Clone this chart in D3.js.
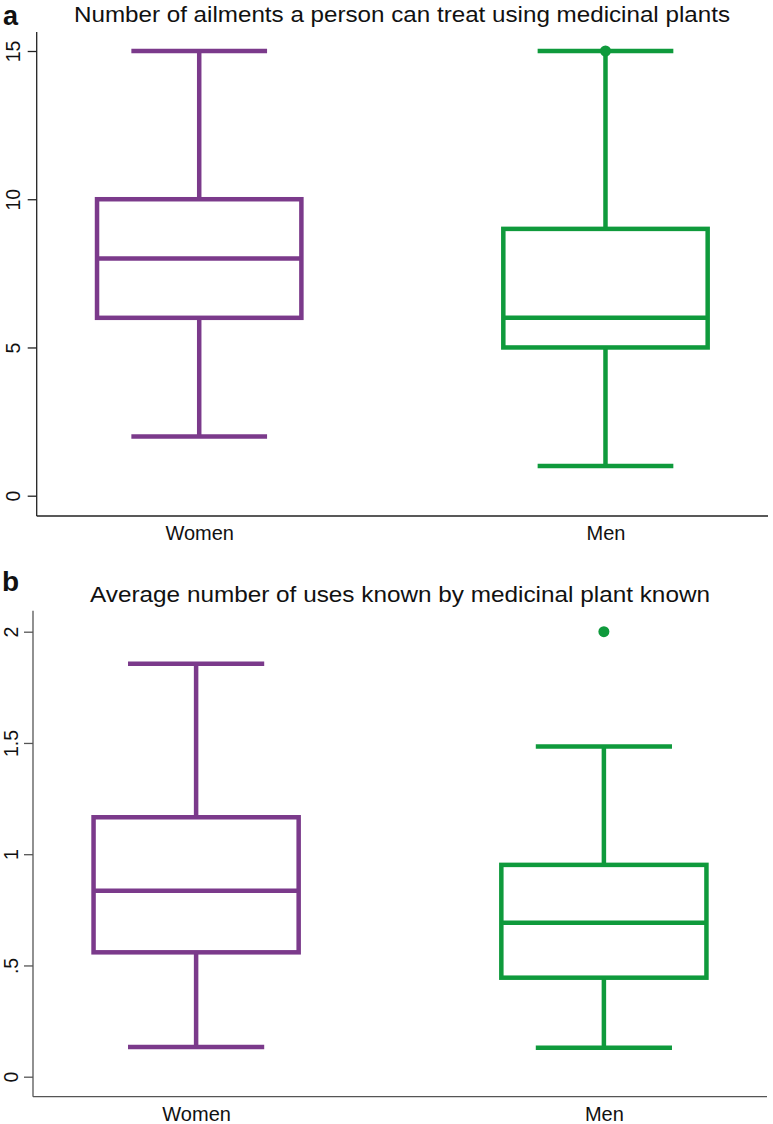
<!DOCTYPE html>
<html>
<head>
<meta charset="utf-8">
<script src="https://cdn.jsdelivr.net/npm/d3@7"></script>
<style>
  html, body { margin: 0; padding: 0; background: #fff; }
  svg { display: block; font-family: "Liberation Sans", Arial, Helvetica, sans-serif; }
</style>
</head>
<body>
<svg id="chart" width="773" height="1124"></svg>
<script>
// ---- data ----
const categories = ["Women", "Men"];

// Panel a: number of ailments
const ailmentsLowerWhisker = [2, 1];
const ailmentsQ1 = [6, 5];
const ailmentsMedian = [8, 6];
const ailmentsQ3 = [10, 9];
const ailmentsUpperWhisker = [15, 15];
const ailmentsOutliers = [[], [15]];
const ailmentsTicks = [0, 5, 10, 15];
const ailmentsTickLabels = ["0", "5", "10", "15"];

// Panel b: average number of uses per plant
const usesLowerWhisker = [0.133, 0.13];
const usesQ1 = [0.559, 0.445];
const usesMedian = [0.836, 0.692];
const usesQ3 = [1.166, 0.952];
const usesUpperWhisker = [1.856, 1.484];
const usesOutliers = [[], [2.0]];
const usesTicks = [0, 0.5, 1, 1.5, 2];
const usesTickLabels = ["0", ".5", "1", "1.5", "2"];

const colors = ["#7b3a8b", "#0f9a3c"];

const svg = d3.select("#chart");

function panel(cfg) {
  const g = svg.append("g");
  const x = d3.scalePoint().domain(categories).range([cfg.xLeft, cfg.xRight]).padding(0.4);
  const y = d3.scaleLinear().domain(cfg.domain).range(cfg.yRange);
  const step = x.step();
  const boxW = step * 0.503;
  const capW = step * 0.334;
  const sw = 4.5;

  // axes
  const yAxis = d3.axisLeft(y).tickValues(cfg.ticks).tickSize(9).tickPadding(0)
    .tickFormat((d, i) => cfg.tickLabels[i]);
  const ya = g.append("g").attr("transform", `translate(${cfg.xLeft},0)`).call(yAxis);
  ya.select(".domain").attr("d", `M-0,${cfg.axisTop}V${cfg.axisBottom}`)
    .attr("stroke", cfg.axisColor).attr("stroke-width", 1.3);
  ya.selectAll(".tick line").attr("stroke", cfg.axisColor).attr("stroke-width", 1.3);
  ya.selectAll(".tick text")
    .attr("x", null).attr("dy", null)
    .attr("transform", `translate(${cfg.tickTextX - cfg.xLeft},0) rotate(-90)`)
    .attr("text-anchor", "middle")
    .attr("font-size", 19.5)
    .attr("fill", "#111");

  const xAxis = d3.axisBottom(x).tickSize(0).tickPadding(0);
  const xa = g.append("g").attr("transform", `translate(0,${cfg.axisBottom})`).call(xAxis);
  xa.select(".domain").attr("d", `M${cfg.xLeft},0H${cfg.xRight}`)
    .attr("stroke", cfg.axisColor).attr("stroke-width", 1.3);
  xa.selectAll(".tick text").attr("dy", null).attr("y", cfg.xLabelDy)
    .attr("font-size", 20).attr("fill", "#111");

  // boxes
  categories.forEach((c, i) => {
    const cx = x(c);
    const col = colors[i];
    const bg = g.append("g").attr("stroke", col).attr("stroke-width", sw).attr("fill", "none");
    // whiskers
    bg.append("line").attr("x1", cx).attr("x2", cx)
      .attr("y1", y(cfg.q3[i])).attr("y2", y(cfg.hi[i]));
    bg.append("line").attr("x1", cx).attr("x2", cx)
      .attr("y1", y(cfg.q1[i])).attr("y2", y(cfg.lo[i]));
    bg.append("line").attr("x1", cx - capW / 2).attr("x2", cx + capW / 2)
      .attr("y1", y(cfg.hi[i])).attr("y2", y(cfg.hi[i]));
    bg.append("line").attr("x1", cx - capW / 2).attr("x2", cx + capW / 2)
      .attr("y1", y(cfg.lo[i])).attr("y2", y(cfg.lo[i]));
    // box
    bg.append("rect").attr("x", cx - boxW / 2).attr("width", boxW)
      .attr("y", y(cfg.q3[i])).attr("height", y(cfg.q1[i]) - y(cfg.q3[i]));
    bg.append("line").attr("x1", cx - boxW / 2).attr("x2", cx + boxW / 2)
      .attr("y1", y(cfg.med[i])).attr("y2", y(cfg.med[i]));
    // outliers
    g.selectAll(null).data(cfg.out[i]).enter().append("circle")
      .attr("cx", cx).attr("cy", d => y(d)).attr("r", 5.5).attr("fill", col);
  });

  // title + panel letter
  g.append("text").attr("x", cfg.titleX).attr("y", cfg.titleY)
    .attr("font-size", 22.5).attr("fill", "#111")
    .attr("textLength", cfg.titleW).attr("lengthAdjust", "spacingAndGlyphs")
    .text(cfg.title);
  g.append("text").attr("x", cfg.letterX).attr("y", cfg.letterY).attr("font-size", cfg.letterSize)
    .attr("font-weight", "bold").attr("fill", "#111").text(cfg.letter);
}

panel({
  domain: [0, 15], yRange: [495.7, 51],
  xLeft: 36.7, xRight: 768, axisTop: 32, axisBottom: 516,
  ticks: ailmentsTicks, tickLabels: ailmentsTickLabels,
  tickTextX: 19.5, xLabelDy: 24, axisColor: "#222",
  lo: ailmentsLowerWhisker, q1: ailmentsQ1, med: ailmentsMedian, q3: ailmentsQ3,
  hi: ailmentsUpperWhisker, out: ailmentsOutliers,
  title: "Number of ailments a person can treat using medicinal plants",
  titleX: 74, titleW: 656, titleY: 21.5, letter: "a", letterX: 3, letterY: 24.5, letterSize: 27
});

panel({
  domain: [0, 2], yRange: [1076.7, 631.7],
  xLeft: 33, xRight: 767, axisTop: 610.7, axisBottom: 1096.7,
  ticks: usesTicks, tickLabels: usesTickLabels,
  tickTextX: 17.5, xLabelDy: 24, axisColor: "#555",
  lo: usesLowerWhisker, q1: usesQ1, med: usesMedian, q3: usesQ3,
  hi: usesUpperWhisker, out: usesOutliers,
  title: "Average number of uses known by medicinal plant known",
  titleX: 90, titleW: 620, titleY: 601.5, letter: "b", letterX: 2, letterY: 591, letterSize: 28
});
</script>
</body>
</html>
